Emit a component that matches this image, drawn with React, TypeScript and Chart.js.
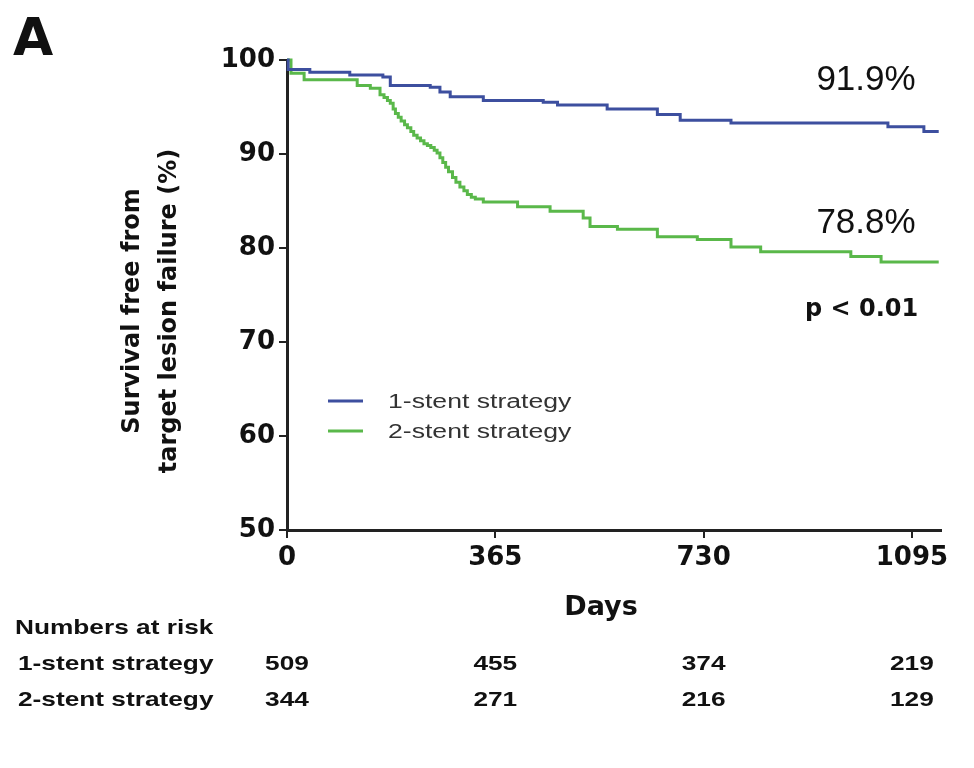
import React, { useEffect, useRef } from 'react';
import { Chart, registerables } from 'chart.js';

Chart.register(...registerables);

// ---- Data ----
const oneStentDays = [0, 2, 40, 110, 168, 181, 251, 268, 286, 344, 449, 474, 561, 649, 689, 778, 1053, 1116, 1142];
const oneStentSurvival = [100, 99.0, 98.7, 98.4, 98.2, 97.3, 97.1, 96.6, 96.1, 95.7, 95.5, 95.2, 94.8, 94.2, 93.6, 93.3, 92.9, 92.4, 92.4];

const twoStentDays = [0, 7, 30, 123, 146, 163, 170, 176, 181, 186, 190, 195, 200, 206, 211, 217, 222, 228, 234, 240, 246, 252, 258, 263, 268, 273, 278, 283, 290, 296, 303, 310, 316, 323, 330, 344, 404, 461, 519, 531, 579, 649, 719, 778, 830, 988, 1041, 1142];
const twoStentSurvival = [100, 98.6, 97.9, 97.3, 97.0, 96.3, 96.0, 95.7, 95.4, 94.8, 94.3, 93.9, 93.5, 93.1, 92.8, 92.4, 92.0, 91.7, 91.4, 91.1, 90.9, 90.7, 90.4, 90.1, 89.6, 89.1, 88.6, 88.1, 87.5, 87.0, 86.5, 86.1, 85.7, 85.4, 85.2, 84.9, 84.4, 83.9, 83.2, 82.3, 82.0, 81.2, 80.9, 80.1, 79.6, 79.1, 78.5, 78.5];

const seriesLabels = ['1-stent strategy', '2-stent strategy'];
const seriesColors = ['#3d4f9f', '#5ab84a'];
const xTickValues = [0, 365, 730, 1095];
const yTickValues = [50, 60, 70, 80, 90, 100];
const riskTimes = [0, 365, 730, 1095];
const oneStentAtRisk = [509, 455, 374, 219];
const twoStentAtRisk = [344, 271, 216, 129];
const finalRates = ['91.9%', '78.8%'];
const pValueText = 'p < 0.01';
const yTitleLines = ['Survival free from', 'target lesion failure (%)'];
const xTitleText = 'Days';
const panelLabel = 'A';
const riskHeader = 'Numbers at risk';

function stretchText(ctx: CanvasRenderingContext2D, text: string, x: number, y: number, sx: number, align: CanvasTextAlign) {
  ctx.save();
  ctx.translate(x, y);
  ctx.scale(sx, 1);
  ctx.textAlign = align;
  ctx.textBaseline = 'alphabetic';
  ctx.fillText(text, 0, 0);
  ctx.restore();
}

const textPlugin = {
  id: 'kmText',
  afterDraw(chart: any) {
    const ctx: CanvasRenderingContext2D = chart.ctx;
    const xs = chart.scales.x;
    ctx.save();
    ctx.fillStyle = '#111';
    ctx.textBaseline = 'alphabetic';

    // Panel label
    ctx.font = 'bold 52px "DejaVu Sans"';
    ctx.textAlign = 'left';
    ctx.fillText(panelLabel, 13, 55);

    // Y title (two lines, rotated)
    ctx.save();
    ctx.translate(139, 311);
    ctx.rotate(-Math.PI / 2);
    ctx.font = 'bold 24px "DejaVu Sans"';
    ctx.textAlign = 'center';
    ctx.fillText(yTitleLines[0], 0, 0);
    ctx.fillText(yTitleLines[1], 0, 37);
    ctx.restore();

    // X title
    ctx.font = 'bold 27px "DejaVu Sans"';
    ctx.textAlign = 'center';
    ctx.fillText(xTitleText, 601, 615);

    // Final rates
    ctx.font = '35px "Liberation Sans", Arial, sans-serif';
    ctx.textAlign = 'center';
    ctx.fillText(finalRates[0], 866, 90);
    ctx.fillText(finalRates[1], 866, 233);

    // p value
    ctx.font = 'bold 24px "DejaVu Sans"';
    ctx.textAlign = 'left';
    ctx.fillText(pValueText, 805, 316);

    // Legend
    const legendY = [401, 431];
    seriesLabels.forEach((lab, i) => {
      ctx.strokeStyle = seriesColors[i];
      ctx.lineWidth = 3;
      ctx.beginPath();
      ctx.moveTo(328, legendY[i]);
      ctx.lineTo(363, legendY[i]);
      ctx.stroke();
      ctx.fillStyle = '#333';
      ctx.font = '20px "Liberation Sans", Arial, sans-serif';
      stretchText(ctx, lab, 388, legendY[i] + 7, 1.33, 'left');
    });

    // Numbers at risk table
    ctx.fillStyle = '#111';
    ctx.font = 'bold 21px "Liberation Sans", Arial, sans-serif';
    stretchText(ctx, riskHeader, 15, 634, 1.25, 'left');
    const rows = [oneStentAtRisk, twoStentAtRisk];
    const rowY = [670, 706];
    rows.forEach((vals, r) => {
      stretchText(ctx, seriesLabels[r], 18, rowY[r], 1.25, 'left');
      vals.forEach((v, i) => {
        stretchText(ctx, String(v), xs.getPixelForValue(riskTimes[i]), rowY[r], 1.25, 'center');
      });
    });
    ctx.restore();
  },
};

export default function App() {
  const canvasRef = useRef<HTMLCanvasElement | null>(null);

  useEffect(() => {
    if (!canvasRef.current) return;
    const toPoints = (d: number[], s: number[]) => d.map((x, i) => ({ x, y: s[i] }));
    const tickFont = { family: '"DejaVu Sans"', weight: 'bold' as const, size: 26 };
    const chart = new Chart(canvasRef.current, {
      type: 'line',
      data: {
        datasets: [
          {
            label: seriesLabels[0],
            data: toPoints(oneStentDays, oneStentSurvival),
            borderColor: seriesColors[0],
            backgroundColor: seriesColors[0],
            borderWidth: 3,
            pointRadius: 0,
            stepped: 'before',
            fill: false,
            clip: 6,
          },
          {
            label: seriesLabels[1],
            data: toPoints(twoStentDays, twoStentSurvival),
            borderColor: seriesColors[1],
            backgroundColor: seriesColors[1],
            borderWidth: 3,
            pointRadius: 0,
            stepped: 'before',
            fill: false,
            clip: 6,
          },
        ],
      },
      options: {
        responsive: false,
        animation: false,
        devicePixelRatio: 1,
        layout: { padding: { left: 0, top: 60, right: 33, bottom: 128 } },
        plugins: { legend: { display: false }, tooltip: { enabled: false } },
        scales: {
          x: {
            type: 'linear',
            min: 0,
            max: 1146,
            afterBuildTicks: (s: any) => {
              s.ticks = xTickValues.map((v) => ({ value: v }));
            },
            afterFit: (s: any) => {
              s.height = 110;
            },
            ticks: {
              font: tickFont,
              color: '#111',
              padding: 5,
              maxRotation: 0,
              autoSkip: false,
              callback: (v: any) => String(v),
            },
            grid: { drawOnChartArea: false, drawTicks: true, tickLength: 8, color: '#222', lineWidth: 2 },
            border: { display: true, color: '#222', width: 3 },
          },
          y: {
            type: 'linear',
            min: 50,
            max: 100,
            afterBuildTicks: (s: any) => {
              s.ticks = yTickValues.map((v) => ({ value: v }));
            },
            afterFit: (s: any) => {
              s.width = 287;
            },
            ticks: { font: tickFont, color: '#111', padding: 4, callback: (v: any) => String(v) },
            grid: { drawOnChartArea: false, drawTicks: true, tickLength: 8, color: '#222', lineWidth: 2 },
            border: { display: true, color: '#222', width: 3 },
          },
        },
      },
      plugins: [textPlugin],
    });
    return () => chart.destroy();
  }, []);

  return (
    <div style={{ position: 'absolute', left: 0, top: 0, width: 974, height: 768, background: '#fff' }}>
      <canvas ref={canvasRef} width={974} height={768} style={{ display: 'block' }} />
    </div>
  );
}
